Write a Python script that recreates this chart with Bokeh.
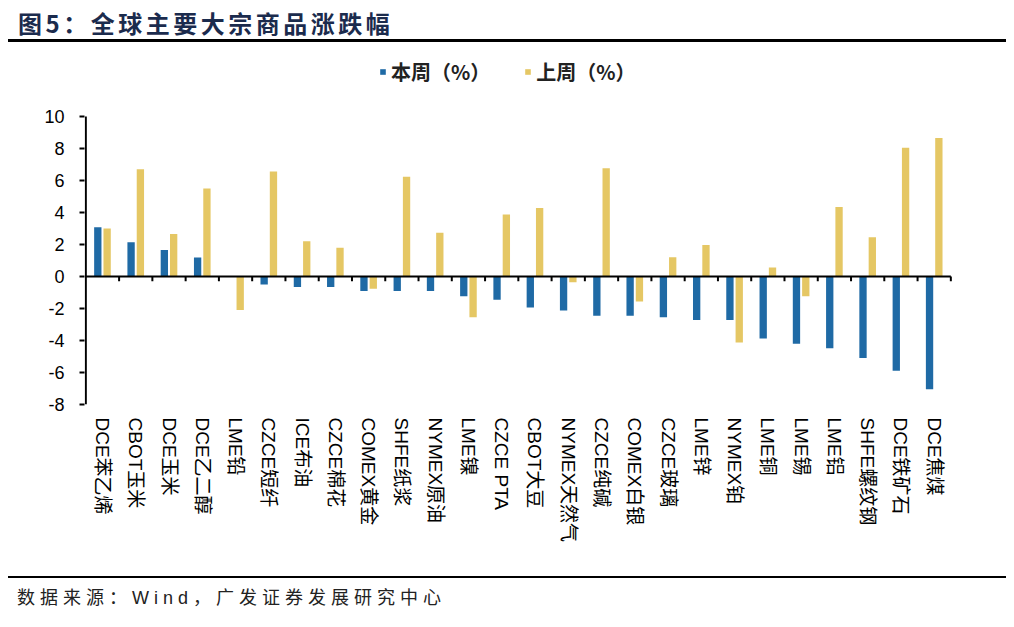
import numpy as np
from bokeh.plotting import figure
from bokeh.models import Range1d, FixedTicker, Legend, LegendItem, Div
from bokeh.layouts import column
from bokeh.embed import file_html
from bokeh.resources import INLINE

categories = ["DCE苯乙烯", "CBOT玉米", "DCE玉米", "DCE乙二醇", "LME铅", "CZCE短纤",
              "ICE布油", "CZCE棉花", "COMEX黄金", "SHFE纸浆", "NYMEX原油", "LME镍",
              "CZCE PTA", "CBOT大豆", "NYMEX天然气", "CZCE纯碱", "COMEX白银", "CZCE玻璃",
              "LME锌", "NYMEX铂", "LME铜", "LME锡", "LME铝", "SHFE螺纹钢", "DCE铁矿石", "DCE焦煤"]
this_week = [3.08, 2.14, 1.65, 1.19, 0.0, -0.50, -0.65, -0.65, -0.90, -0.90, -0.90, -1.24,
             -1.45, -1.93, -2.12, -2.45, -2.45, -2.54, -2.72, -2.72, -3.88, -4.21, -4.49,
             -5.10, -5.89, -7.04]
last_week = [3.00, 6.70, 2.66, 5.50, -2.10, 6.56, 2.20, 1.80, -0.77, 6.23, 2.73, -2.54,
             3.88, 4.28, -0.36, 6.77, -1.57, 1.20, 1.97, -4.13, 0.57, -1.24, 4.34,
             2.45, 8.05, 8.66]
y_ticks = [-8, -6, -4, -2, 0, 2, 4, 6, 8, 10]
series_names = ["本周（%）", "上周（%）"]
title_text = "图5：全球主要大宗商品涨跌幅"
source_text = "数据来源：Wind，广发证券发展研究中心"

BLUE = "#1f6aa5"
YELLOW = "#e5c764"

n = len(categories)
centers = np.arange(n) + 0.5
bounds = np.arange(1, n + 1)
y_min, y_max = y_ticks[0], y_ticks[-1]

# frame extends above the value axis to host the legend
p = figure(width=998, height=534, x_range=Range1d(-0.04, n + 0.08), y_range=Range1d(y_min, 14.25),
           output_backend="svg", toolbar_location=None,
           min_border_left=76, min_border_right=53, min_border_top=6, min_border_bottom=172)
p.outline_line_color = None
p.grid.visible = False
p.background_fill_color = None
p.border_fill_color = None

r1 = p.vbar(x=centers - 0.14, top=this_week, width=0.22, fill_color=BLUE, line_color=None)
r2 = p.vbar(x=centers + 0.14, top=last_week, width=0.22, fill_color=YELLOW, line_color=None)

# value axis line (from lowest to highest tick)
p.segment(x0=[0], y0=[y_min], x1=[0], y1=[y_max], line_color="black", line_width=2)
# zero axis line and ticks at category boundaries
p.segment(x0=[0], y0=[0], x1=[n], y1=[0], line_color="black", line_width=2)
p.segment(x0=bounds, y0=np.zeros(n), x1=bounds, y1=np.full(n, -0.3), line_color="black", line_width=2)

xa = p.xaxis[0]
xa.ticker = FixedTicker(ticks=list(centers))
xa.major_label_overrides = {float(c): lab for c, lab in zip(centers, categories)}
xa.major_label_orientation = "vertical"
xa.axis_line_color = None
xa.major_tick_line_color = None
xa.minor_tick_line_color = None
xa.major_label_standoff = 7
xa.major_label_text_font_size = "19px"
xa.major_label_text_font = "Liberation Sans, Noto Sans CJK SC"
xa.major_label_text_color = "black"

ya = p.yaxis[0]
ya.ticker = FixedTicker(ticks=y_ticks)
ya.major_label_overrides = {t: str(t) for t in y_ticks}
ya.axis_line_color = None
ya.major_tick_line_width = 2
ya.major_tick_line_color = "black"
ya.major_tick_out = 5
ya.major_tick_in = 0
ya.minor_tick_line_color = None
ya.major_label_standoff = 15
ya.major_label_text_font_size = "18px"
ya.major_label_text_font = "Liberation Sans"
ya.major_label_text_color = "black"

legend = Legend(items=[LegendItem(label=series_names[0], renderers=[r1]),
                       LegendItem(label=series_names[1], renderers=[r2])],
                orientation="horizontal", location=(295, 318),
                glyph_width=7, glyph_height=7, label_standoff=5, spacing=34, label_height=28,
                padding=0, margin=0, border_line_color=None, background_fill_alpha=0,
                label_text_font_size="20px", label_text_font="Noto Sans CJK SC",
                label_text_font_style="bold", label_text_color="#222222")
p.add_layout(legend)

title = Div(text=('<div style="box-sizing:border-box;width:998px;height:34px;line-height:29px;'
                  'border-bottom:3px solid #000;font-family:\'Noto Sans CJK SC\';font-weight:bold;'
                  'font-size:24px;letter-spacing:3.5px;color:#1b2b4d;padding-left:10px;white-space:nowrap;">'
                  + title_text + '</div>'), width=998, height=34, margin=0)
source = Div(text=('<div style="box-sizing:border-box;width:998px;height:40px;line-height:24px;'
                   'border-top:2px solid #000;padding-top:8px;font-family:\'Liberation Sans\',\'Noto Sans CJK SC\';'
                   'font-size:18px;letter-spacing:5px;color:#222;padding-left:9px;white-space:nowrap;">'
                   + source_text + '</div>'), width=998, height=40, margin=0)

layout = column(title, p, source, spacing=0, margin=(8, 8, 8, 8))
open("out.html", "w").write(file_html(layout, INLINE))
